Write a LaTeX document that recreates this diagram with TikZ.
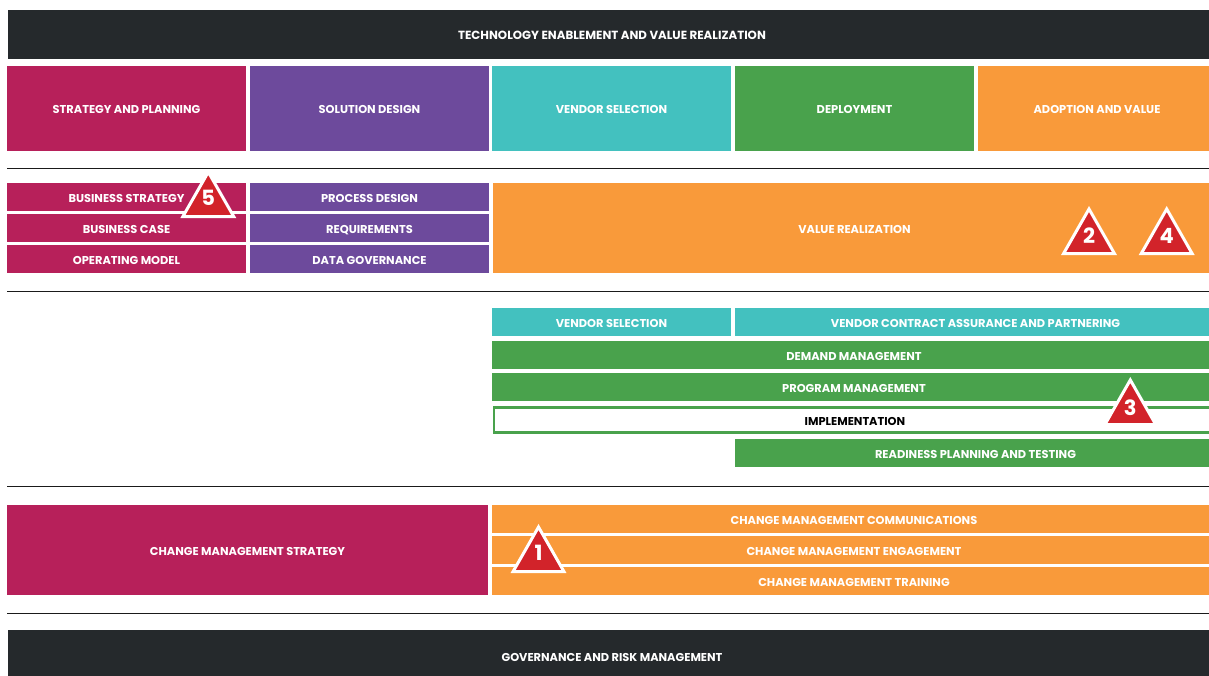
\documentclass[tikz,border=0pt]{standalone}
\usepackage{fontspec}
\setmainfont{Poppins}
\definecolor{cMag}{HTML}{B7205A}
\definecolor{cPur}{HTML}{6D4A9C}
\definecolor{cTeal}{HTML}{43C1BF}
\definecolor{cGrn}{HTML}{49A24C}
\definecolor{cOrg}{HTML}{F99A3A}
\definecolor{cDark}{HTML}{25292C}
\definecolor{cRed}{HTML}{D2232A}
\definecolor{cRule}{HTML}{1A1A1A}
\tikzset{
  boxnode/.style={inner sep=0pt,outer sep=0pt,text=white,align=center,text height=10pt,text depth=0pt,
    font=\fontsize{11.4}{12}\selectfont\bfseries},
  rulerline/.style={draw=cRule,line width=0.8pt},
  badge/.style={draw=white,fill=cRed,line width=3pt,line join=miter},
  badgenum/.style={inner sep=0pt,outer sep=0pt,text=white,text height=13.5pt,text depth=0pt,
    font=\fontsize{21}{22}\selectfont\bfseries},
}
\newcommand{\bx}[7][]{%
  \pgfmathsetmacro{\cxx}{(#3+#5)/2}\pgfmathsetmacro{\cyy}{(#4+#6)/2}%
  \pgfmathsetmacro{\www}{#5-#3}\pgfmathsetmacro{\hhh}{#6-#4}%
  \node[boxnode,#1,minimum width=\www pt,minimum height=\hhh pt] (#2) at (\cxx,\cyy) {#7};}
% name, apex x, apex y(outer), digit centre y, digit
\newcommand{\tri}[5]{%
  \pgfmathsetmacro{\ay}{#3+3}\pgfmathsetmacro{\by}{#3+47.5}%
  \pgfmathsetmacro{\lx}{#2-25.4}\pgfmathsetmacro{\rx}{#2+25.4}%
  \draw[badge] (#2,\ay) -- (\rx,\by) -- (\lx,\by) -- cycle;
  \node[badgenum] (#1) at (#2,#4) {#5};}
\begin{document}
\begin{tikzpicture}[x=1pt,y=-1pt]
\useasboundingbox (0,0) rectangle (1209,675);
\clip (0,0) rectangle (1209,675);
\fill[white] (0,0) rectangle (1209,675);
% top
\bx[fill=cDark,font=\fontsize{11.8}{12}\selectfont\bfseries]{top}{8}{9.5}{1216}{59}{TECHNOLOGY ENABLEMENT AND VALUE REALIZATION}
\bx[fill=cMag]{h1}{7}{65.5}{246}{151}{STRATEGY AND PLANNING}
\bx[fill=cPur]{h2}{250}{65.5}{489}{151}{SOLUTION DESIGN}
\bx[fill=cTeal]{h3}{492}{65.5}{731}{151}{VENDOR SELECTION}
\bx[fill=cGrn]{h4}{735}{65.5}{974}{151}{DEPLOYMENT}
\bx[fill=cOrg]{h5}{978}{65.5}{1216}{151}{ADOPTION AND VALUE}
% rules
\coordinate (r1a) at (7,168); \coordinate (r1b) at (1209,168);
\coordinate (r2a) at (7,291); \coordinate (r2b) at (1209,291);
\coordinate (r3a) at (7,486); \coordinate (r3b) at (1209,486);
\coordinate (r4a) at (7,613); \coordinate (r4b) at (1209,613);
\draw[rulerline] (r1a) -- (r1b);
\draw[rulerline] (r2a) -- (r2b);
\draw[rulerline] (r3a) -- (r3b);
\draw[rulerline] (r4a) -- (r4b);
% strategy block
\bx[fill=cMag]{s1}{7}{183}{246}{211}{BUSINESS STRATEGY}
\bx[fill=cMag]{s2}{7}{214}{246}{242}{BUSINESS CASE}
\bx[fill=cMag]{s3}{7}{245}{246}{273}{OPERATING MODEL}
\bx[fill=cPur]{d1}{250}{183}{489}{211}{PROCESS DESIGN}
\bx[fill=cPur]{d2}{250}{214}{489}{242}{REQUIREMENTS}
\bx[fill=cPur]{d3}{250}{245}{489}{273}{DATA GOVERNANCE}
\bx[fill=cOrg]{vr}{493}{183}{1216}{273}{VALUE REALIZATION}
% vendor / deploy
\bx[fill=cTeal]{v1}{492}{308}{731}{336}{VENDOR SELECTION}
\bx[fill=cTeal]{v2}{735}{308}{1216}{336}{VENDOR CONTRACT ASSURANCE AND PARTNERING}
\bx[fill=cGrn]{g1}{492}{341}{1216}{369}{DEMAND MANAGEMENT}
\bx[fill=cGrn]{g2}{492}{373}{1216}{401}{PROGRAM MANAGEMENT}
\bx[fill=white,draw=cGrn,line width=2.5pt,text=black]{g3}{494}{407.5}{1216}{432.5}{IMPLEMENTATION}
\bx[fill=cGrn]{g4}{735}{439}{1216}{467}{READINESS PLANNING AND TESTING}
% change
\bx[fill=cMag]{c0}{7}{505}{488}{595}{CHANGE MANAGEMENT STRATEGY}
\bx[fill=cOrg]{c1}{492}{505}{1216}{533}{CHANGE MANAGEMENT COMMUNICATIONS}
\bx[fill=cOrg]{c2}{492}{536}{1216}{564}{CHANGE MANAGEMENT ENGAGEMENT}
\bx[fill=cOrg]{c3}{492}{567}{1216}{595}{CHANGE MANAGEMENT TRAINING}
% bottom
\bx[fill=cDark]{bot}{8}{630}{1216}{682}{GOVERNANCE AND RISK MANAGEMENT}
% badges
\tri{b5}{208.3}{169}{198.5}{5}
\tri{b2}{1089}{206}{236.7}{2}
\tri{b4}{1166.7}{206}{236.7}{4}
\tri{b3}{1130.3}{377}{408.5}{3}
\tri{b1}{538.5}{524}{553.5}{1}
\end{tikzpicture}
\end{document}
